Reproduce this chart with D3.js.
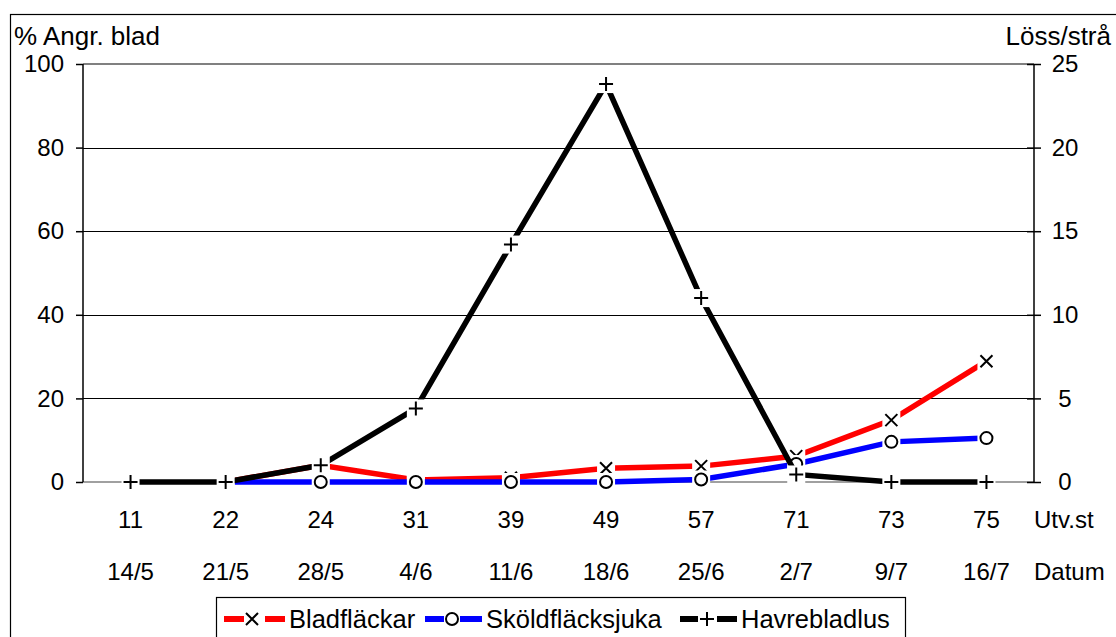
<!DOCTYPE html>
<html>
<head>
<meta charset="utf-8">
<script src="https://cdn.jsdelivr.net/npm/d3@7"></script>
<style>
  html, body { margin: 0; padding: 0; background: #fff; }
  svg { display: block; font-family: "Liberation Sans", Arial, sans-serif; }
</style>
</head>
<body>
<svg id="chart" width="1116" height="637"></svg>
<script>
// Development stage (Utv.st) and date of each observation
const stages = ["11", "22", "24", "31", "39", "49", "57", "71", "73", "75"];
const dates = ["14/5", "21/5", "28/5", "4/6", "11/6", "18/6", "25/6", "2/7", "9/7", "16/7"];

// % attacked leaves (left axis); null = not recorded
const bladflackar = [null, 0, 4, 0.5, 1, 3.3, 3.8, 6.2, 14.8, 28.9];
const skoldflacksjuka = [null, 0, 0, 0, 0, 0, 0.6, 4.3, 9.6, 10.5];
// aphids per straw (right axis)
const havrebladlus = [0, 0, 1.0, 4.4, 14.2, 23.8, 11.0, 0.45, 0, 0];

const leftTicks = [0, 20, 40, 60, 80, 100];
const rightTicks = [0, 5, 10, 15, 20, 25];

const svg = d3.select("#chart");
const plot = { left: 83, right: 1034, top: 64, bottom: 482 };

const x = d3.scalePoint().domain(stages).range([plot.left, plot.right]).padding(0.5);
const yL = d3.scaleLinear().domain([0, 100]).range([plot.bottom, plot.top]);
const yR = d3.scaleLinear().domain([0, 25]).range([plot.bottom, plot.top]);

// outer frame
svg.append("rect")
  .attr("x", 10.5).attr("y", 14.5).attr("width", 1200).attr("height", 700)
  .attr("fill", "none").attr("stroke", "#000").attr("stroke-width", 1.2);

// horizontal gridlines
svg.append("g").selectAll("line")
  .data(leftTicks.filter(d => d > 0 && d < 100))
  .join("line")
  .attr("x1", plot.left).attr("x2", plot.right)
  .attr("y1", d => Math.round(yL(d)) + 0.5).attr("y2", d => Math.round(yL(d)) + 0.5)
  .attr("stroke", "#000").attr("stroke-width", 1);

// top border and zero line in grey
svg.append("line")
  .attr("x1", plot.left).attr("x2", plot.right)
  .attr("y1", yL(100)).attr("y2", yL(100))
  .attr("stroke", "#808080").attr("stroke-width", 2);
svg.append("line")
  .attr("x1", plot.left).attr("x2", plot.right)
  .attr("y1", yL(0)).attr("y2", yL(0))
  .attr("stroke", "#a0a0a0").attr("stroke-width", 2);

// left axis
const axL = svg.append("g")
  .attr("transform", `translate(${plot.left},0)`)
  .call(d3.axisLeft(yL).tickValues(leftTicks).tickSize(7).tickPadding(12));
axL.select(".domain").attr("stroke", "#000").attr("stroke-width", 1.5).attr("d", `M0,${plot.top}V${plot.bottom}`);
axL.selectAll(".tick line").attr("stroke", "#000").attr("stroke-width", 1.5);
axL.selectAll(".tick text").attr("font-size", 24).attr("fill", "#000")
  .attr("font-family", "Liberation Sans, Arial, sans-serif");

// right axis
const axR = svg.append("g")
  .attr("transform", `translate(${plot.right},0)`)
  .call(d3.axisRight(yR).tickValues(rightTicks).tickSize(7).tickPadding(0));
axR.select(".domain").attr("stroke", "#000").attr("stroke-width", 1.5).attr("d", `M0,${plot.top}V${plot.bottom}`);
axR.selectAll(".tick line").attr("stroke", "#000").attr("stroke-width", 1.5).attr("x1", -7).attr("x2", 7);
axR.selectAll(".tick text").attr("font-size", 24).attr("fill", "#000")
  .attr("font-family", "Liberation Sans, Arial, sans-serif")
  .attr("text-anchor", "middle").attr("x", 31);

// axis titles
svg.append("text").attr("x", 14).attr("y", 36).attr("dy", "0.35em")
  .attr("font-size", 26).text("% Angr. blad");
svg.append("text").attr("x", 1111).attr("y", 36).attr("dy", "0.35em")
  .attr("text-anchor", "end").attr("font-size", 26).text("Löss/strå");

// category rows
const rowUtv = 520, rowDat = 572;
svg.append("g").selectAll("text").data(stages).join("text")
  .attr("x", d => x(d)).attr("y", rowUtv).attr("dy", "0.35em")
  .attr("text-anchor", "middle").attr("font-size", 24).text(d => d);
svg.append("g").selectAll("text").data(dates).join("text")
  .attr("x", (d, i) => x(stages[i])).attr("y", rowDat).attr("dy", "0.35em")
  .attr("text-anchor", "middle").attr("font-size", 24).text(d => d);
svg.append("text").attr("x", 1034).attr("y", rowUtv).attr("dy", "0.35em")
  .attr("font-size", 24).text("Utv.st");
svg.append("text").attr("x", 1034).attr("y", rowDat).attr("dy", "0.35em")
  .attr("font-size", 24).text("Datum");

// marker shapes
function drawMarker(g, type, cx, cy) {
  if (type === "x") {
    const s = 6;
    g.append("path").attr("d", `M${cx - s},${cy - s}L${cx + s},${cy + s}M${cx - s},${cy + s}L${cx + s},${cy - s}`)
      .attr("stroke", "#000").attr("stroke-width", 2).attr("fill", "none");
  } else if (type === "o") {
    g.append("circle").attr("cx", cx).attr("cy", cy).attr("r", 6)
      .attr("fill", "#fff").attr("stroke", "#000").attr("stroke-width", 2);
  } else {
    const s = 7;
    g.append("path").attr("d", `M${cx - s},${cy}L${cx + s},${cy}M${cx},${cy - s}L${cx},${cy + s}`)
      .attr("stroke", "#000").attr("stroke-width", 2).attr("fill", "none");
  }
}

const series = [
  { name: "Bladfläckar", values: bladflackar, color: "#ff0000", marker: "x", y: yL },
  { name: "Sköldfläcksjuka", values: skoldflacksjuka, color: "#0000ff", marker: "o", y: yL },
  { name: "Havrebladlus", values: havrebladlus, color: "#000000", marker: "+", y: yR }
];

series.forEach(s => {
  const g = svg.append("g");
  const pts = s.values.map((v, i) => ({ k: stages[i], v })).filter(p => p.v !== null);
  const line = d3.line().x(p => x(p.k)).y(p => s.y(p.v));
  g.append("path").attr("d", line(pts))
    .attr("fill", "none").attr("stroke", s.color).attr("stroke-width", 5.5)
    .attr("stroke-linejoin", "miter");
  // white clearance round each marker, then the marker
  pts.forEach(p => {
    g.append("rect").attr("x", x(p.k) - 9).attr("y", s.y(p.v) - 9)
      .attr("width", 18).attr("height", 18).attr("fill", "#fff");
  });
  pts.forEach(p => drawMarker(g, s.marker, x(p.k), s.y(p.v)));
});

// legend
const lg = svg.append("g");
lg.append("rect").attr("x", 216.5).attr("y", 597.5).attr("width", 689).attr("height", 60)
  .attr("fill", "#fff").attr("stroke", "#000").attr("stroke-width", 1.2);
const legendY = 619;
const legendPos = [
  { seg1: [224, 244], mk: 252, seg2: [265, 285], tx: 289 },
  { seg1: [425, 444], mk: 452, seg2: [460, 482], tx: 486 },
  { seg1: [680, 698], mk: 707, seg2: [717, 737], tx: 741 }
];
series.forEach((s, i) => {
  const p = legendPos[i];
  [p.seg1, p.seg2].forEach(sg => {
    lg.append("line").attr("x1", sg[0]).attr("x2", sg[1]).attr("y1", legendY).attr("y2", legendY)
      .attr("stroke", s.color).attr("stroke-width", 6);
  });
  drawMarker(lg, s.marker, p.mk, legendY);
  lg.append("text").attr("x", p.tx).attr("y", legendY).attr("dy", "0.35em")
    .attr("font-size", 25.5).text(s.name);
});
</script>
</body>
</html>
